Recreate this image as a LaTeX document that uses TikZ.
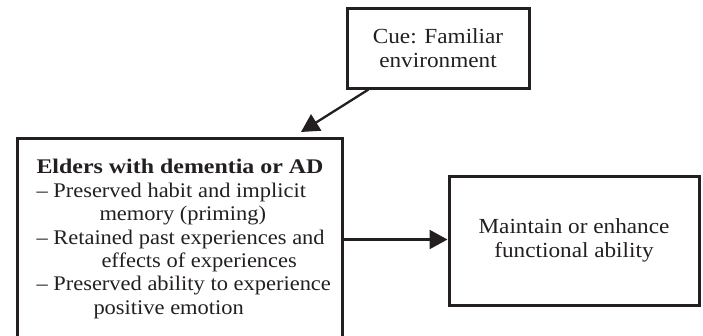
\documentclass[tikz,border=0pt]{standalone}
\usepackage{fontspec}
\setmainfont{Liberation Serif}[FakeStretch=1.08, BoldFeatures={FakeStretch=1.15}]
\usetikzlibrary{arrows.meta}
\definecolor{ink}{HTML}{231F20}

\begin{document}
\begin{tikzpicture}[x=1pt, y=-1pt, line width=3pt, color=ink,
    font=\fontsize{21.5}{23.4}\selectfont]
    \tikzstyle{every node} = [rectangle, draw, inner sep=0pt]
    \tikzstyle{link} = [-{Triangle[length=18pt, width=19pt]}, line width=2.3pt]

    \useasboundingbox (0, 0) rectangle (703, 335);

    \node (cue) at (438, 48) [minimum width=182pt, minimum height=80pt, align=center] {Cue: Familiar \\ environment};

    \node (elders) at (16, 137) [anchor=north west, minimum width=325pt, minimum height=202pt] {};
    \node (txt) at (35, 158) [anchor=north west, draw=none, align=left,
        font=\fontsize{20.8}{23.4}\selectfont]
        {\textbf{Elders with dementia or AD} \\
         – Preserved habit and implicit \\
         \hspace*{63pt}memory (priming) \\
         – Retained past experiences and \\
         \hspace*{65pt}effects of experiences \\
         – Preserved ability to experience \\
         \hspace*{57pt}positive emotion};

    \node (ability) at (574, 240.5) [minimum width=250pt, minimum height=129pt, align=center] {Maintain or enhance \\ functional ability};

    \draw [link] ([xshift=23pt]cue.south west) -- ([xshift=-43pt, yshift=5pt]elders.north east);
    \draw [link] (elders.east) -- (elders.east -| ability.west);
\end{tikzpicture}
\end{document}
